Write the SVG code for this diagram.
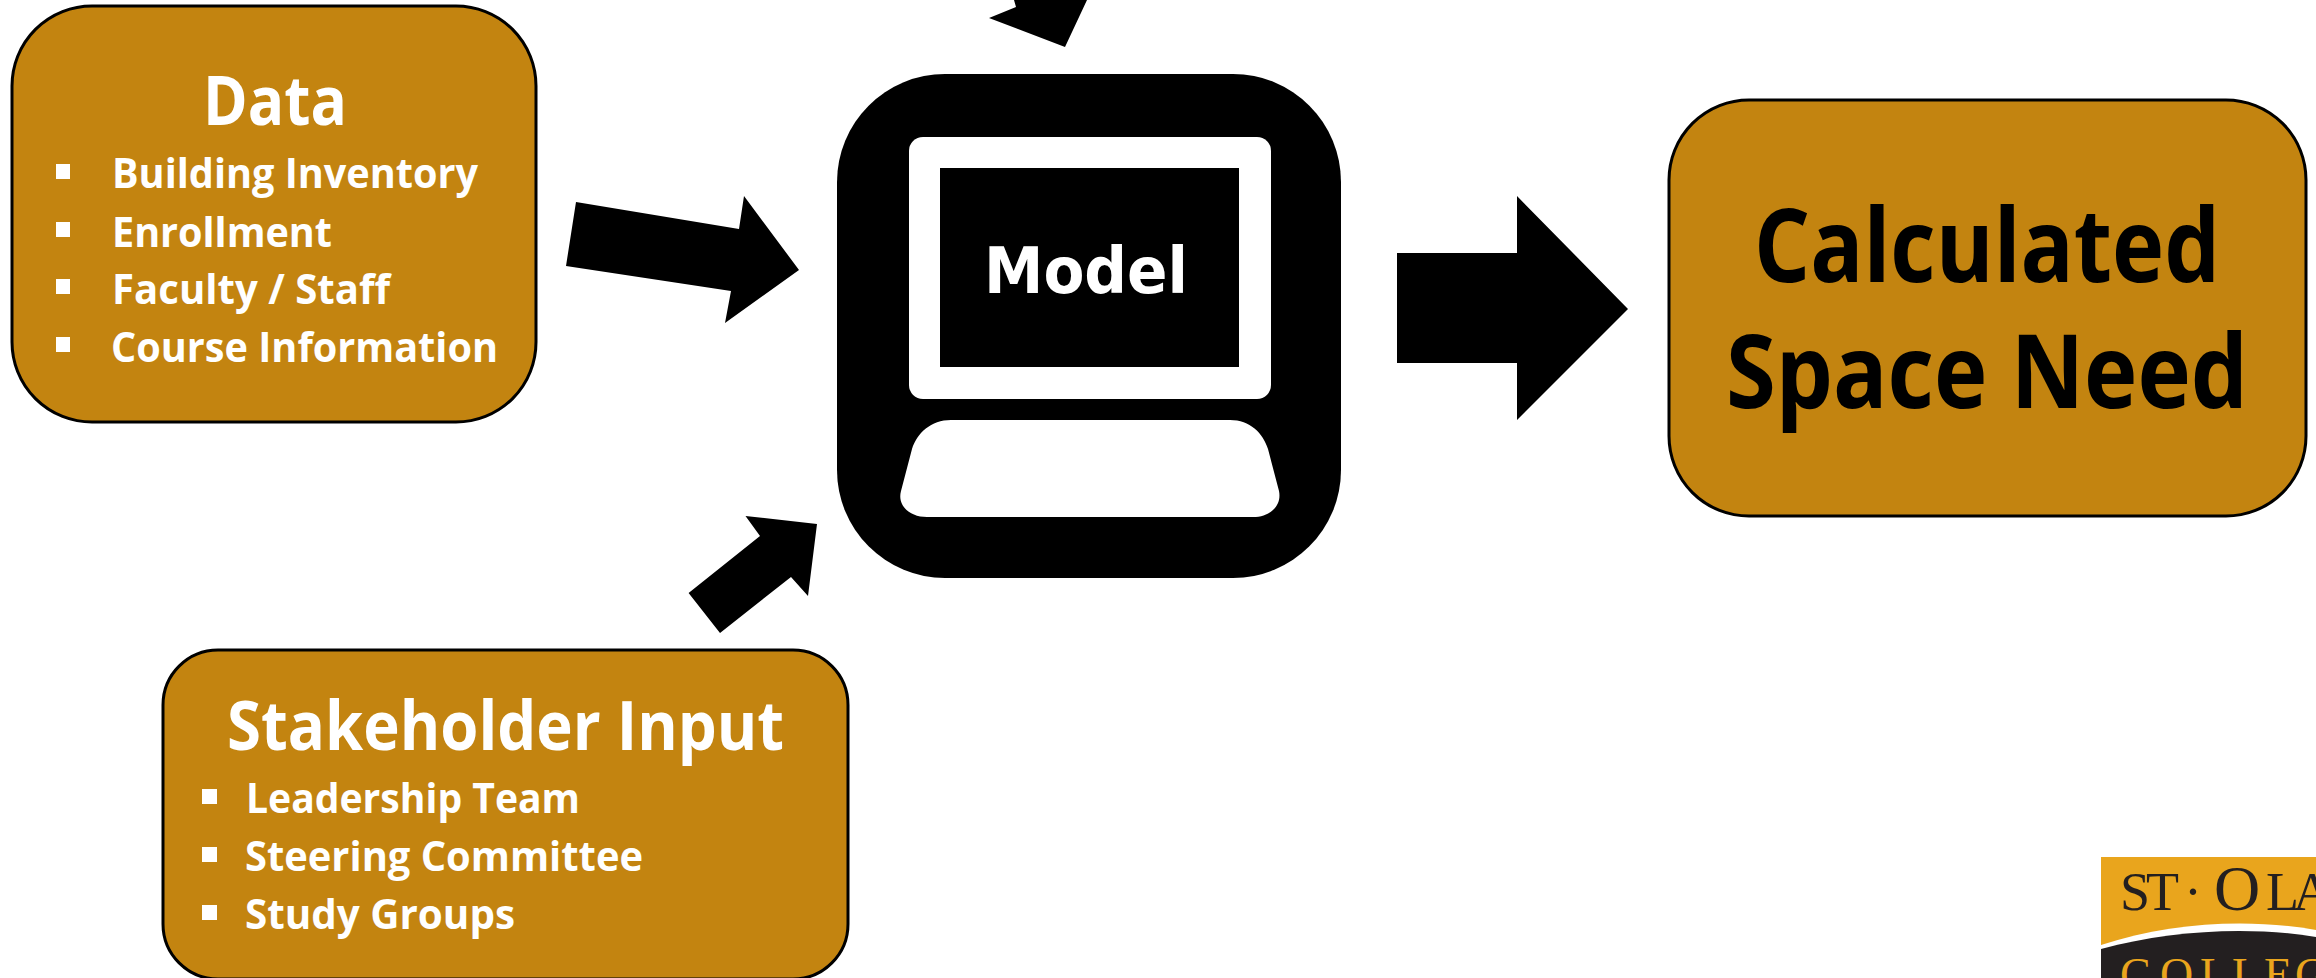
<svg xmlns="http://www.w3.org/2000/svg" width="2316" height="978" viewBox="0 0 2316 978">
<style>
.box{fill:#c38410;stroke:#000;stroke-width:3}
.t{font-family:"Open Sans","Noto Sans",sans-serif;font-weight:700;fill:#fff}
.h{font-size:68px}
.i{font-size:42px}
.c{font-size:103px;fill:#000}
.b{fill:#fff}
.w{fill:#fff}
.logo{font-family:"Liberation Serif",serif}
</style>
<rect width="2316" height="978" fill="#fff"/>
<g id="connectors" fill="#000">
<polygon id="arrow-data" points="576,202 739,229 744,196 799,270 725,323 731,291 566,266"/>
<polygon id="arrow-stakeholder" points="688.6,593 760,536 745.5,516 817,524 808,596 791,577 720,633"/>
<polygon id="arrow-top" points="1014,0 1016,7 989,18 1065,47 1087,0"/>
<polygon id="arrow-output" points="1397,253 1517,253 1517,196 1628,309 1517,420 1517,363 1397,363"/>
</g>
<g id="node-data">
<rect class="box" x="12" y="6" width="524" height="416" rx="80"/>
<text class="t h" x="203" y="125" textLength="144" lengthAdjust="spacingAndGlyphs">Data</text>
<rect class="b" x="56" y="164" width="14" height="15"/><rect class="b" x="56" y="222" width="14" height="15"/><rect class="b" x="56" y="279" width="14" height="15"/><rect class="b" x="56" y="337" width="14" height="15"/>
<text class="t i" x="112" y="188" textLength="366" lengthAdjust="spacingAndGlyphs">Building Inventory</text>
<text class="t i" x="112" y="247" textLength="220" lengthAdjust="spacingAndGlyphs">Enrollment</text>
<text class="t i" x="112" y="304" textLength="278" lengthAdjust="spacingAndGlyphs">Faculty / Staff</text>
<text class="t i" x="111" y="362" textLength="387" lengthAdjust="spacingAndGlyphs">Course Information</text>
</g>
<g id="node-model">
<rect x="837" y="74" width="504" height="504" rx="108" fill="#000"/>
<rect class="w" x="909" y="137" width="362" height="262" rx="14"/>
<rect x="940" y="168" width="299" height="199" fill="#000"/>
<path class="w" d="M951 420H1230C1250 420 1263 433 1268 449L1279 491C1282 506 1270 517 1253 517H927C910 517 897 506 901 491L912 449C917 433 931 420 951 420Z"/>
<text x="984" y="293" font-family="'DejaVu Sans',sans-serif" font-weight="700" font-size="64" fill="#fff" textLength="204" lengthAdjust="spacingAndGlyphs">Model</text>
</g>
<g id="node-space">
<rect class="box" x="1669" y="100" width="637" height="416" rx="80"/>
<text class="t c" x="1754" y="282" textLength="466" lengthAdjust="spacingAndGlyphs">Calculated</text>
<text class="t c" x="1726" y="408" textLength="522" lengthAdjust="spacingAndGlyphs">Space Need</text>
</g>
<g id="node-stakeholder">
<rect class="box" x="163" y="650" width="685" height="329" rx="55"/>
<text class="t h" x="227" y="750" textLength="557" lengthAdjust="spacingAndGlyphs">Stakeholder Input</text>
<rect class="b" x="202" y="789" width="15" height="15"/><rect class="b" x="202" y="847" width="15" height="15"/><rect class="b" x="202" y="905" width="15" height="15"/>
<text class="t i" x="246" y="813" textLength="334" lengthAdjust="spacingAndGlyphs">Leadership Team</text>
<text class="t i" x="245" y="871" textLength="398" lengthAdjust="spacingAndGlyphs">Steering Committee</text>
<text class="t i" x="245" y="929" textLength="270" lengthAdjust="spacingAndGlyphs">Study Groups</text>
</g>
<g id="logo">
<rect x="2101" y="857" width="215" height="121" fill="#e9a51d"/>
<path d="M2101 945C2170 922 2250 918 2316 930V978H2101Z" fill="#fff"/>
<path d="M2101 949C2170 930 2250 926 2316 937V978H2101Z" fill="#231f20"/>
<text class="logo" font-size="54" fill="#231f20" y="910" x="2120 2146 2184">ST·<tspan font-size="64" x="2214">O</tspan><tspan x="2266 2293">LA</tspan></text>
<text class="logo" font-size="46" fill="#e9a51d" y="990" x="2120 2160 2200 2232 2264 2295">COLLEG</text>
</g>
</svg>
